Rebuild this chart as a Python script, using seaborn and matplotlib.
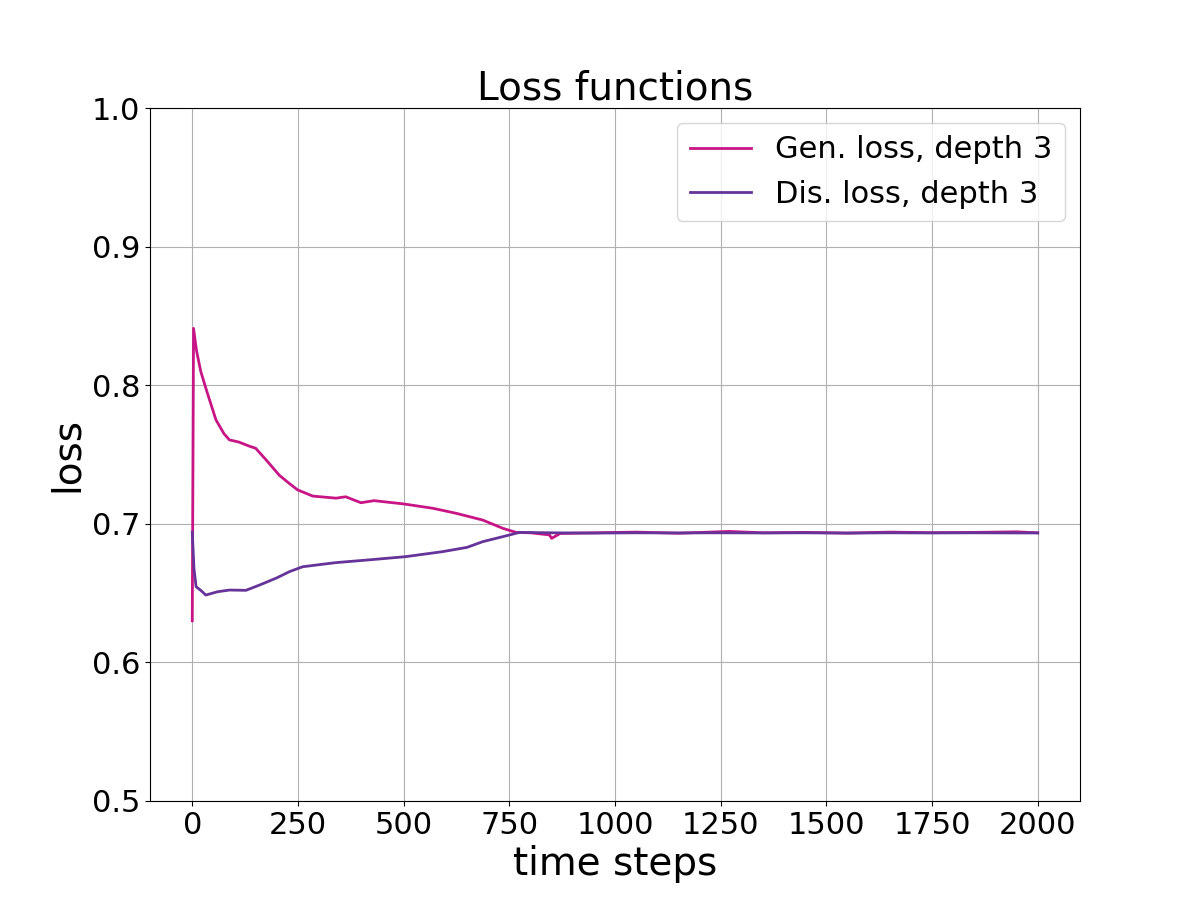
import pandas as pd
import matplotlib
matplotlib.use("Agg")
import matplotlib.pyplot as plt
import seaborn as sns

# values
gen_steps = [0, 3, 10, 20, 35, 56, 75, 88, 110, 135, 150, 175, 206, 230, 249,
             285, 340, 363, 399, 430, 501, 569, 624, 687, 735, 766, 800,
             845, 850, 870, 950, 1050, 1150, 1270, 1350, 1450, 1550, 1650,
             1750, 1850, 1950, 2000]
gen_loss = [0.630, 0.841, 0.825, 0.810, 0.795, 0.775, 0.765, 0.7605, 0.759, 0.756,
            0.7545, 0.746, 0.735, 0.729, 0.7245, 0.720, 0.7185, 0.7195, 0.7152,
            0.7167, 0.7143, 0.7112, 0.7076, 0.7027, 0.6967, 0.6938, 0.6935,
            0.6920, 0.6895, 0.6930, 0.6935, 0.6940, 0.6932, 0.6945, 0.6935,
            0.6938, 0.6933, 0.6940, 0.6936, 0.6938, 0.6942, 0.6935]

dis_steps = [0, 4, 9, 20, 32, 60, 88, 127, 159, 200, 230, 261, 300, 340, 419,
             505, 592, 650, 687, 750, 774, 850, 950, 1050, 1150, 1250, 1350,
             1450, 1550, 1650, 1750, 1850, 1950, 2000]
dis_loss = [0.694, 0.668, 0.6546, 0.652, 0.6486, 0.651, 0.6522, 0.652, 0.6558,
            0.661, 0.6655, 0.669, 0.6705, 0.672, 0.674, 0.6763, 0.6799, 0.683,
            0.6871, 0.6919, 0.6938, 0.6935, 0.6933, 0.6935, 0.6934, 0.6935,
            0.6934, 0.6935, 0.6933, 0.6935, 0.6934, 0.6935, 0.6934, 0.6934]

fig, ax = plt.subplots(figsize=(12, 9), dpi=100)

sns.lineplot(x=gen_steps, y=gen_loss, color="#C71585", linewidth=2,
             label="Gen. loss, depth 3", ax=ax)
sns.lineplot(x=dis_steps, y=dis_loss, color="#663399", linewidth=2,
             label="Dis. loss, depth 3", ax=ax)

ax.set_ylim(0.5, 1.0)
ax.set_xlim(-100, 2100)
ax.set_xticks([0, 250, 500, 750, 1000, 1250, 1500, 1750, 2000])
ax.grid(True)
ax.set_title("Loss functions", fontsize=28)
ax.set_xlabel("time steps", fontsize=28)
ax.set_ylabel("loss", fontsize=28)
ax.tick_params(labelsize=22)
ax.legend(fontsize=22, loc="upper right")

plt.savefig("out.png", dpi=100)
